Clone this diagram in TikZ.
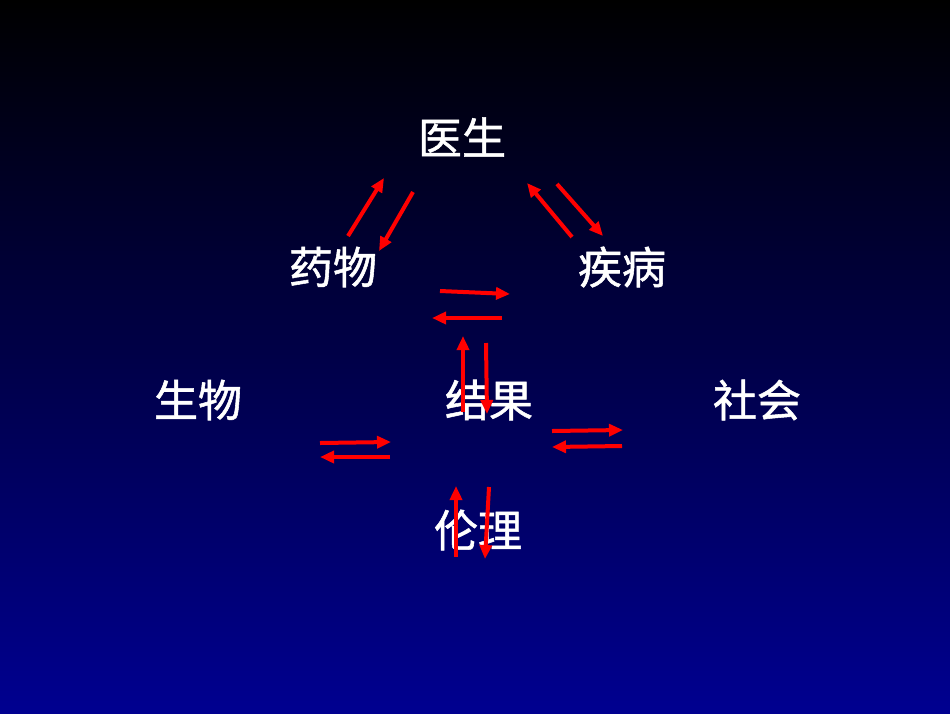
\documentclass[tikz,border=0pt]{standalone}
\usepackage{fontspec}
\usepackage{xcolor}
\usetikzlibrary{calc,arrows.meta}
\newfontfamily\cjk[FakeBold=1.2]{Noto Sans CJK SC}
\definecolor{color_bg_top}{HTML}{000000}
\definecolor{color_bg_bottom}{HTML}{000090}
\definecolor{color_arrow}{HTML}{FF0000}
\tikzset{
	word/.style={text=white,font=\cjk\fontsize{44}{44}\selectfont,inner sep=0pt},
	link/.style={color_arrow,line width=4pt,-{Triangle[length=14pt,width=12pt]}}
}

\begin{document}
\begin{tikzpicture}[x=1pt,y=-1pt]
				\useasboundingbox (0, 0) rectangle (950, 713);
				% Background
				\shade[top color=color_bg_top,bottom color=color_bg_bottom]
					(0, 0) rectangle (950, 713);
		
				% Words
				\node[word] (doctor) at (462, 137) {医生};
				\node[word] (drug) at (333, 267) {药物};
				\node[word] (disease) at (622, 267) {疾病};
				\node[word] (biology) at (198, 400) {生物};
				\node[word] (result) at (489, 400) {结果};
				\node[word] (society) at (757, 400) {社会};
				\node[word] (ethics) at (478, 530) {伦理};
		
				% Points
				\coordinate (DU0) at (348, 236);
				\coordinate (DU1) at (384, 178);
				\coordinate (DD0) at (413, 192);
				\coordinate (DD1) at (379, 251);
				\coordinate (SU0) at (572, 237);
				\coordinate (SU1) at (527, 183);
				\coordinate (SD0) at (557, 184);
				\coordinate (SD1) at (603, 236);
				\coordinate (MR0) at (440, 291);
				\coordinate (MR1) at (510, 294);
				\coordinate (ML0) at (502, 318);
				\coordinate (ML1) at (432, 318);
				\coordinate (RU0) at (463, 412);
				\coordinate (RU1) at (463, 336);
				\coordinate (RD0) at (486, 343);
				\coordinate (RD1) at (487, 414);
				\coordinate (BR0) at (320, 443);
				\coordinate (BR1) at (391, 442);
				\coordinate (BL0) at (390, 457);
				\coordinate (BL1) at (320, 457);
				\coordinate (CR0) at (552, 431);
				\coordinate (CR1) at (623, 430);
				\coordinate (CL0) at (622, 446);
				\coordinate (CL1) at (552, 447);
				\coordinate (EU0) at (456, 557);
				\coordinate (EU1) at (456, 486);
				\coordinate (ED0) at (489, 487);
				\coordinate (ED1) at (485, 559);
		
				% Arrows
				\draw[link] (DU0) -- (DU1);
				\draw[link] (DD0) -- (DD1);
				\draw[link] (SU0) -- (SU1);
				\draw[link] (SD0) -- (SD1);
				\draw[link] (MR0) -- (MR1);
				\draw[link] (ML0) -- (ML1);
				\draw[link] (RU0) -- (RU1);
				\draw[link] (RD0) -- (RD1);
				\draw[link] (BR0) -- (BR1);
				\draw[link] (BL0) -- (BL1);
				\draw[link] (CR0) -- (CR1);
				\draw[link] (CL0) -- (CL1);
				\draw[link] (EU0) -- (EU1);
				\draw[link] (ED0) -- (ED1);
			\end{tikzpicture}
\end{document}
